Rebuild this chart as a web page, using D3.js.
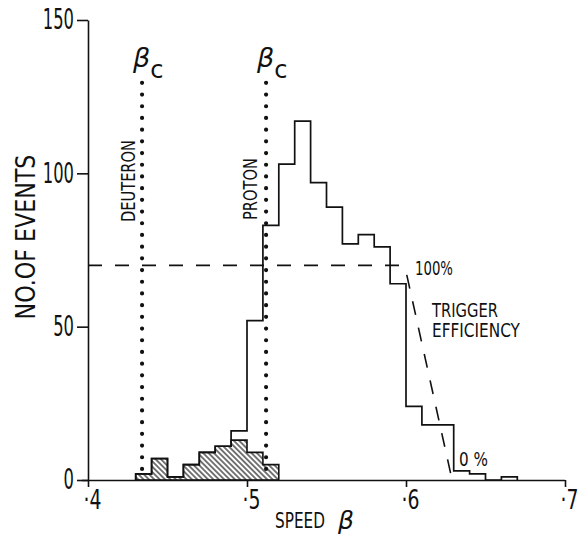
<!DOCTYPE html>
<html>
<head>
<meta charset="utf-8">
<script src="https://cdn.jsdelivr.net/npm/d3@7"></script>
<style>
  body { margin: 0; background: #fff; }
  svg { display: block; }
  text { font-family: "DejaVu Sans", sans-serif; fill: #111; }
</style>
</head>
<body>
<div id="chart"></div>
<script>
// histogram of all events, bins of 0.01 in beta
const binWidth = 0.01;
const binStarts = [0.43, 0.44, 0.45, 0.46, 0.47, 0.48, 0.49, 0.50, 0.51, 0.52, 0.53, 0.54,
                   0.55, 0.56, 0.57, 0.58, 0.59, 0.60, 0.61, 0.62, 0.63, 0.64, 0.65, 0.66];
const totalCounts = [2, 7, 1, 5, 9, 11, 16, 52, 83, 103, 117, 97,
                     89, 77, 80, 76, 64, 24, 18, 18, 3, 2, 0, 1];

// hatched (deuteron candidates)
const hatchedStarts = [0.43, 0.44, 0.45, 0.46, 0.47, 0.48, 0.49, 0.50, 0.51];
const hatchedCounts = [2, 7, 1, 5, 9, 11, 13, 9, 5];

// cherenkov thresholds
const thresholdNames = ["DEUTERON", "PROTON"];
const thresholdBetas = [0.434, 0.512];
const thresholdTop = 129.5;

// trigger efficiency curve (scaled so 100% = 70 events)
const effBeta = [0.4, 0.596, 0.6, 0.629];
const effLevel = [70, 70, 68, 0];

const xTicks = [0.4, 0.5, 0.6, 0.7];
const yTicks = [0, 50, 100, 150];

const width = 582, height = 542;

const svg = d3.select("#chart").append("svg")
  .attr("width", width)
  .attr("height", height);

const x = d3.scaleLinear().domain([0.4, 0.7]).range([88, 565]);
const y = d3.scaleLinear().domain([0, 150]).range([480, 20]);

// squeeze text horizontally to a target width (the lettering is narrow)
function squeeze(sel, target, base) {
  sel.each(function(d) {
    const t = d3.select(this);
    const w = typeof target === "function" ? target(d) : target;
    const natural = this.getComputedTextLength();
    const x0 = +t.attr("x") || 0;
    t.attr("x", 0)
      .attr("transform", `${base || ""} translate(${x0},0) scale(${w / natural},1)`);
  });
}

// hatch pattern "\\\\"
const defs = svg.append("defs");
defs.append("pattern")
  .attr("id", "hatch")
  .attr("patternUnits", "userSpaceOnUse")
  .attr("width", 3.8)
  .attr("height", 10)
  .attr("patternTransform", "rotate(-45)")
  .append("line")
  .attr("x1", 1.9).attr("y1", 0)
  .attr("x2", 1.9).attr("y2", 10)
  .attr("stroke", "#111")
  .attr("stroke-width", 1.15);

function stepPoints(starts, counts) {
  const pts = [[starts[0], 0]];
  starts.forEach((s, i) => {
    pts.push([s, counts[i]]);
    pts.push([s + binWidth, counts[i]]);
  });
  pts.push([starts[starts.length - 1] + binWidth, 0]);
  return pts;
}

const line = d3.line().x(d => x(d[0])).y(d => y(d[1]));

// hatched area
svg.append("path")
  .attr("d", line(stepPoints(hatchedStarts, hatchedCounts)) + "Z")
  .attr("fill", "url(#hatch)")
  .attr("stroke", "#111")
  .attr("stroke-width", 1.6);

// total histogram outline
svg.append("path")
  .attr("d", line(stepPoints(binStarts, totalCounts)))
  .attr("fill", "none")
  .attr("stroke", "#111")
  .attr("stroke-width", 1.7);

// trigger efficiency dashed line
svg.append("path")
  .attr("d", line(effBeta.map((b, i) => [b, effLevel[i]])))
  .attr("fill", "none")
  .attr("stroke", "#111")
  .attr("stroke-width", 1.6)
  .attr("stroke-dasharray", "14,13");

// dotted threshold lines
thresholdBetas.forEach((b, i) => {
  svg.append("line")
    .attr("x1", x(b)).attr("x2", x(b))
    .attr("y1", y(thresholdTop)).attr("y2", y(1))
    .attr("stroke", "#111")
    .attr("stroke-width", 4.2)
    .attr("stroke-linecap", "round")
    .attr("stroke-dasharray", "0,11.7");

  const lab = svg.append("text")
    .attr("x", x(b) - 9)
    .attr("y", 67)
    .attr("font-size", 27)
    .attr("font-style", "italic");
  lab.append("tspan").text("β");
  lab.append("tspan").attr("dy", 11).attr("font-style", "normal").attr("font-size", 24).text("c");

  const ly = i === 0 ? 181 : 189;
  const lx = i === 0 ? x(b) - 7 : x(b) - 9;
  svg.append("text")
    .attr("text-anchor", "middle")
    .attr("font-size", 20)
    .text(thresholdNames[i])
    .call(squeeze, i === 0 ? 82 : 62, `translate(${lx},${ly}) rotate(-90)`);
});

// axes
const yAxis = svg.append("g")
  .attr("transform", `translate(${x(0.4)},0)`)
  .call(d3.axisLeft(y).tickValues(yTicks).tickSize(11).tickSizeOuter(0).tickPadding(3));
yAxis.attr("font-family", null).attr("font-size", null);
yAxis.selectAll("path, line").attr("stroke", "#111").attr("stroke-width", 1.6);
yAxis.selectAll("text")
  .attr("font-size", 28)
  .call(squeeze, d => String(d).length * 10.4);

const xAxis = svg.append("g")
  .attr("transform", `translate(0,${y(0)})`)
  .call(d3.axisBottom(x).tickValues(xTicks).tickSize(7).tickSizeOuter(0).tickPadding(4)
    .tickFormat(d => "·" + Math.round(d * 10)));
xAxis.attr("font-family", null).attr("font-size", null);
xAxis.selectAll("path, line").attr("stroke", "#111").attr("stroke-width", 1.6);
xAxis.select(".domain").attr("d", `M${x(0.4) - 6},0.5H${x(0.7)}`);
xAxis.selectAll("text")
  .attr("font-size", 26)
  .attr("text-anchor", "start")
  .attr("x", -5)
  .call(squeeze, 18);

// axis titles
svg.append("text")
  .attr("x", 275).attr("y", 528)
  .attr("font-size", 22)
  .text("SPEED")
  .call(squeeze, 50);
svg.append("text")
  .attr("x", 338).attr("y", 529)
  .attr("font-size", 25)
  .attr("font-style", "italic")
  .text("β");

svg.append("text")
  .attr("text-anchor", "middle")
  .attr("font-size", 27)
  .text("NO.OF EVENTS")
  .call(squeeze, 165, "translate(35,237) rotate(-90)");

// efficiency annotations
const notes = [
  { text: "100%", x: 415, y: 275, len: 38 },
  { text: "TRIGGER", x: 432, y: 317, len: 66 },
  { text: "EFFICIENCY", x: 432, y: 337, len: 88 },
  { text: "0 %", x: 459, y: 466, len: 29 }
];
notes.forEach(n => {
  svg.append("text")
    .attr("x", n.x).attr("y", n.y)
    .attr("font-size", 19)
    .text(n.text)
    .call(squeeze, n.len);
});
</script>
</body>
</html>
